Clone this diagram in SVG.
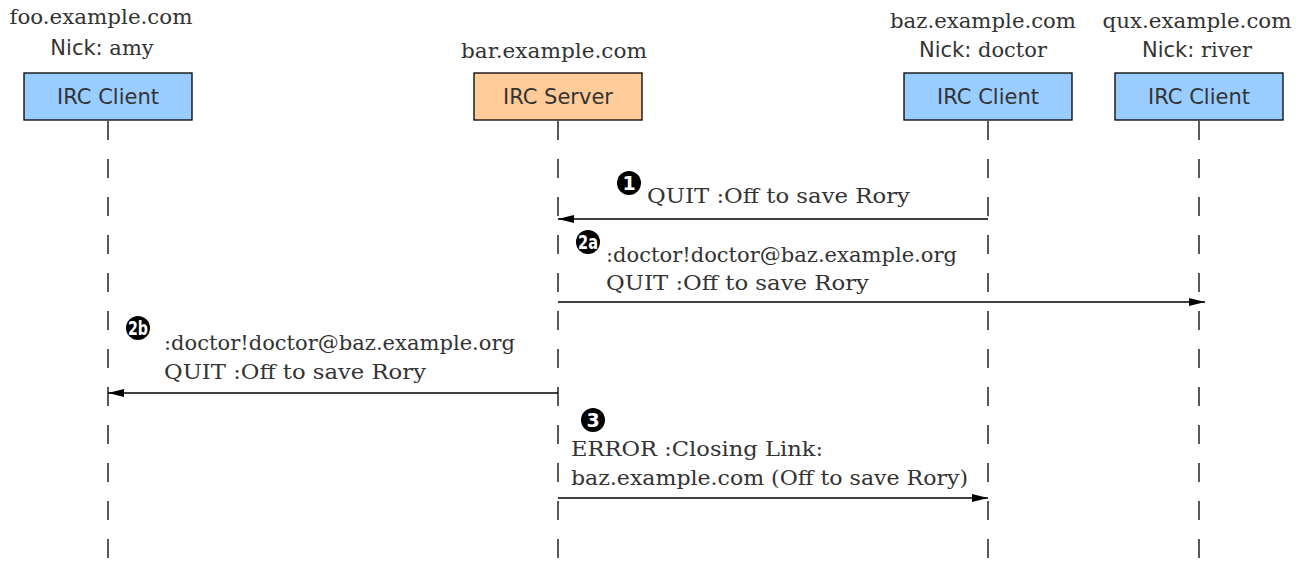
<svg xmlns="http://www.w3.org/2000/svg" width="1303" height="562" viewBox="0 0 1303 562">
<style>
.bg{fill:#ffffff}
.box{stroke:#000;stroke-width:1.3}
.client{fill:#99ccff}
.server{fill:#ffcc99}
.boxlbl{font-family:"DejaVu Sans",sans-serif;font-size:21px;fill:#333;text-anchor:middle}
.hdr{font-family:"DejaVu Serif",serif;font-size:21px;fill:#333;text-anchor:middle}
.sans{font-family:"DejaVu Sans",sans-serif}
.life{stroke:#000;stroke-width:1.3;stroke-dasharray:19 19;fill:none}
.msg{stroke:#000;stroke-width:1.3;fill:none}
.mtxt{font-family:"DejaVu Serif",serif;font-size:21px;fill:#333}
.badge{fill:#000}
.btxt{font-family:"DejaVu Sans",sans-serif;font-weight:bold;font-size:19px;fill:#fff;text-anchor:middle}
</style>
<defs>
<marker id="arr" viewBox="0 0 16 8" refX="16" refY="4" markerWidth="16" markerHeight="8" markerUnits="userSpaceOnUse" orient="auto">
<path d="M0,0 L16,4 L0,8 Z" fill="#000"/>
</marker>
</defs>
<rect class="bg" x="0" y="0" width="1303" height="562"/>
<g id="lifelines">
<line class="life" x1="108" y1="121" x2="108" y2="562"/>
<line class="life" x1="558" y1="121" x2="558" y2="562"/>
<line class="life" x1="988" y1="121" x2="988" y2="562"/>
<line class="life" x1="1199" y1="121" x2="1199" y2="562"/>
</g>
<g id="foo">
<text class="hdr" x="101" y="24" textLength="183" lengthAdjust="spacingAndGlyphs">foo.example.com</text>
<text class="hdr" x="102" y="55"><tspan class="sans">Nick: </tspan>amy</text>
<rect class="box client" x="24" y="73" width="168" height="47"/>
<text class="boxlbl" x="108" y="104">IRC Client</text>
</g>
<g id="bar">
<text class="hdr" x="554" y="58" textLength="186" lengthAdjust="spacingAndGlyphs">bar.example.com</text>
<rect class="box server" x="474" y="73" width="168" height="47"/>
<text class="boxlbl" x="558" y="104">IRC Server</text>
</g>
<g id="baz">
<text class="hdr" x="983" y="28" textLength="186" lengthAdjust="spacingAndGlyphs">baz.example.com</text>
<text class="hdr" x="983" y="57"><tspan class="sans">Nick: </tspan>doctor</text>
<rect class="box client" x="904" y="73" width="168" height="47"/>
<text class="boxlbl" x="988" y="104">IRC Client</text>
</g>
<g id="qux">
<text class="hdr" x="1197" y="28" textLength="189" lengthAdjust="spacingAndGlyphs">qux.example.com</text>
<text class="hdr" x="1197" y="57"><tspan class="sans">Nick: </tspan>river</text>
<rect class="box client" x="1115" y="73" width="168" height="47"/>
<text class="boxlbl" x="1199" y="104">IRC Client</text>
</g>
<g id="connectors">
<line class="msg" x1="988" y1="219" x2="558" y2="219" marker-end="url(#arr)"/>
<line class="msg" x1="558" y1="302" x2="1205" y2="302" marker-end="url(#arr)"/>
<line class="msg" x1="558" y1="393" x2="108" y2="393" marker-end="url(#arr)"/>
<line class="msg" x1="558" y1="498" x2="988" y2="498" marker-end="url(#arr)"/>
</g>
<g id="msg1">
<circle class="badge" cx="629" cy="183" r="12"/>
<text class="btxt" x="629" y="190">1</text>
<text class="mtxt" x="647" y="203" textLength="263" lengthAdjust="spacingAndGlyphs">QUIT :Off to save Rory</text>
</g>
<g id="msg2a">
<circle class="badge" cx="588" cy="242" r="12"/>
<text class="btxt" x="588" y="249" textLength="20" lengthAdjust="spacingAndGlyphs">2a</text>
<text class="mtxt" x="606" y="262" textLength="351" lengthAdjust="spacingAndGlyphs">:doctor!doctor@baz.example.org</text>
<text class="mtxt" x="606" y="290" textLength="263" lengthAdjust="spacingAndGlyphs">QUIT :Off to save Rory</text>
</g>
<g id="msg2b">
<circle class="badge" cx="138" cy="328" r="12"/>
<text class="btxt" x="138" y="335" textLength="20" lengthAdjust="spacingAndGlyphs">2b</text>
<text class="mtxt" x="164" y="350" textLength="351" lengthAdjust="spacingAndGlyphs">:doctor!doctor@baz.example.org</text>
<text class="mtxt" x="164" y="379" textLength="262" lengthAdjust="spacingAndGlyphs">QUIT :Off to save Rory</text>
</g>
<g id="msg3">
<circle class="badge" cx="593" cy="420" r="12"/>
<text class="btxt" x="593" y="427">3</text>
<text class="mtxt" x="571" y="456" textLength="252" lengthAdjust="spacingAndGlyphs">ERROR :Closing Link:</text>
<text class="mtxt" x="571" y="485" textLength="397" lengthAdjust="spacingAndGlyphs">baz.example.com (Off to save Rory)</text>
</g>
</svg>
